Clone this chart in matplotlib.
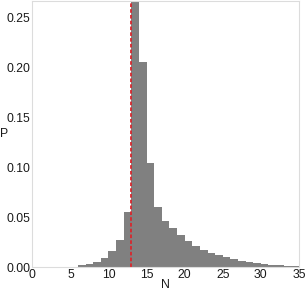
import matplotlib
matplotlib.use("Agg")
import matplotlib.pyplot as plt
import numpy as np

GRAY = "#808080"
RED = "#d9262c"
FRAME = "#dcdcdc"
TEXT = "#1a1a1a"

# histogram of N (left bin edges, unit width) and probabilities P
bin_left = np.arange(6, 35)
probs = [0.002, 0.003, 0.0053, 0.009, 0.0167, 0.027, 0.0557, 0.30, 0.2056,
         0.105, 0.060, 0.046, 0.039, 0.032, 0.026, 0.021, 0.017, 0.014,
         0.012, 0.010, 0.008, 0.0065, 0.005, 0.004, 0.003, 0.0023, 0.0018,
         0.0013, 0.001]
mode_line = 13
x_ticks = [0, 5, 10, 15, 20, 25, 30, 35]
y_ticks = [0.00, 0.05, 0.10, 0.15, 0.20, 0.25]

plt.rcParams.update({
    "font.family": ["Liberation Sans", "DejaVu Sans"],
    "font.size": 8.8,
})

fig = plt.figure(figsize=(3.06, 2.96), dpi=100)
ax = fig.add_axes([0.1056, 0.097, 0.8714, 0.9])

ax.bar(bin_left, probs, width=1.0, align="edge", color=GRAY, linewidth=0)
ax.axvline(mode_line, color=RED, lw=1.3, ls=(0, (2, 1.2)))

ax.set_xlim(0, 35)
ax.set_ylim(0, 0.267)
ax.set_xticks(x_ticks)
ax.set_yticks(y_ticks, [f"{v:.2f}" for v in y_ticks])
ax.tick_params(length=0, pad=1.5, colors=TEXT, labelsize=8.8)
for s in ax.spines.values():
    s.set_color(FRAME)
    s.set_linewidth(0.8)

ax.set_xlabel("N", color=TEXT, va="center")
ax.xaxis.set_label_coords(0.5, -0.068)
ax.set_ylabel("P", color=TEXT, rotation=0, va="center", ha="center")
ax.yaxis.set_label_coords(-0.105, 0.5)

fig.savefig("out.png", dpi=100)
